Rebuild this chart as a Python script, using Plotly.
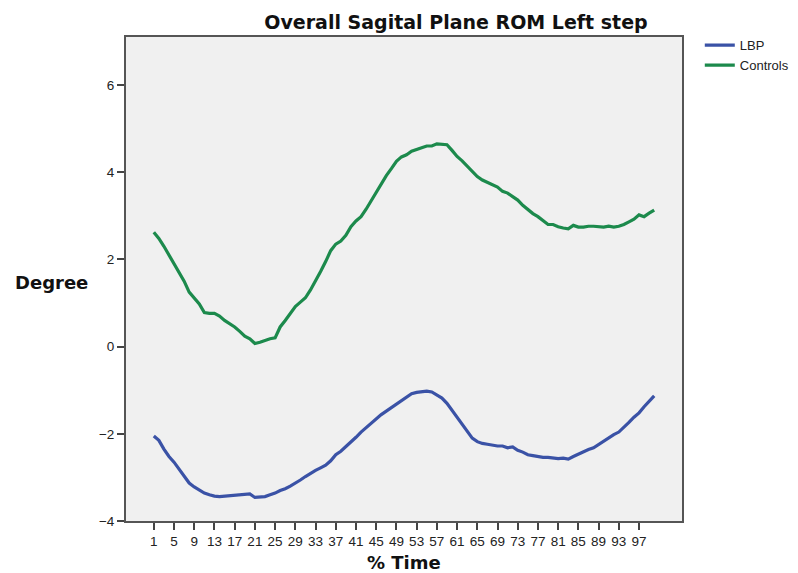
import plotly.graph_objects as go

# % of step time, 1..100
time_pct = list(range(1, 101))

lbp = [-2.05, -2.15, -2.35, -2.52, -2.65, -2.80, -2.98, -3.13, -3.22, -3.30,
       -3.36, -3.40, -3.43, -3.44, -3.43, -3.42, -3.42, -3.41, -3.40, -3.38,
       -3.46, -3.45, -3.44, -3.40, -3.36, -3.30, -3.26, -3.20, -3.14, -3.06,
       -2.98, -2.90, -2.84, -2.78, -2.72, -2.62, -2.48, -2.40, -2.30, -2.20,
       -2.08, -1.96, -1.86, -1.75, -1.66, -1.56, -1.48, -1.40, -1.30, -1.22,
       -1.14, -1.08, -1.05, -1.03, -1.02, -1.04, -1.10, -1.18, -1.30, -1.46,
       -1.62, -1.78, -1.92, -2.10, -2.18, -2.22, -2.24, -2.26, -2.28, -2.28,
       -2.32, -2.30, -2.38, -2.42, -2.48, -2.50, -2.52, -2.54, -2.54, -2.55,
       -2.57, -2.56, -2.58, -2.52, -2.46, -2.42, -2.36, -2.32, -2.24, -2.18,
       -2.10, -2.02, -1.96, -1.86, -1.74, -1.62, -1.52, -1.38, -1.26, -1.13]

controls = [2.62, 2.48, 2.30, 2.10, 1.92, 1.72, 1.50, 1.25, 1.10, 0.98,
            0.78, 0.76, 0.76, 0.70, 0.60, 0.53, 0.45, 0.35, 0.24, 0.18,
            0.07, 0.10, 0.14, 0.18, 0.20, 0.45, 0.60, 0.76, 0.92, 1.02,
            1.12, 1.30, 1.50, 1.72, 1.95, 2.20, 2.35, 2.42, 2.55, 2.75,
            2.88, 2.98, 3.15, 3.35, 3.55, 3.75, 3.92, 4.08, 4.25, 4.35,
            4.40, 4.48, 4.53, 4.56, 4.60, 4.60, 4.65, 4.64, 4.63, 4.50,
            4.36, 4.26, 4.14, 4.00, 3.90, 3.82, 3.76, 3.72, 3.66, 3.56,
            3.52, 3.44, 3.36, 3.24, 3.14, 3.05, 2.98, 2.88, 2.80, 2.80,
            2.75, 2.72, 2.70, 2.78, 2.74, 2.74, 2.76, 2.76, 2.75, 2.74,
            2.76, 2.74, 2.76, 2.80, 2.86, 2.92, 3.02, 2.98, 3.06, 3.13]

x_ticks = list(range(1, 98, 4))
y_ticks = [-4, -2, 0, 2, 4, 6]

fig = go.Figure()
fig.add_trace(go.Scatter(x=time_pct, y=lbp, mode="lines", name="LBP",
                         line=dict(color="#3A52A6", width=3.2)))
fig.add_trace(go.Scatter(x=time_pct, y=controls, mode="lines", name="Controls",
                         line=dict(color="#1C8A4C", width=3.2)))

# page body has an 8px margin, so the figure sits at (8, 8)
fig.update_layout(
    width=798, height=573,
    margin=dict(l=118, r=119, t=29, b=60),
    paper_bgcolor="white",
    plot_bgcolor="#F0F0F0",
    font=dict(family="Liberation Sans, Arial, sans-serif", size=12, color="#222"),
    showlegend=True,
    legend=dict(x=1.032, y=1.014, xanchor="left", yanchor="top", xref="paper",
                bgcolor="rgba(0,0,0,0)", font=dict(size=13, color="#222"),
                tracegroupgap=0, itemwidth=30),
    title=dict(text="<b>Overall Sagital Plane ROM Left step</b>",
               x=(456 - 8) / 798, xanchor="center", xref="container",
               y=1 - 14 / 573, yanchor="middle", yref="container",
               font=dict(family="DejaVu Sans, Arial, sans-serif", size=19, color="#111")),
    annotations=[
        dict(text="<b>Degree</b>", xref="paper", yref="paper",
             x=-0.134, y=(521 - 282) / 484, xanchor="center", yanchor="middle",
             showarrow=False,
             font=dict(family="DejaVu Sans, Arial, sans-serif", size=18, color="#111")),
        dict(text="<b>% Time</b>", xref="paper", yref="paper",
             x=0.5, y=-(562 - 521) / 484, xanchor="center", yanchor="middle",
             showarrow=False,
             font=dict(family="DejaVu Sans, Arial, sans-serif", size=18, color="#111")),
    ],
)

fig.update_xaxes(range=[-4.5, 105.5], tickmode="array", tickvals=x_ticks,
                 ticktext=[str(v) for v in x_ticks],
                 showgrid=False, zeroline=False,
                 showline=True, linecolor="#555", linewidth=2, mirror=True,
                 ticks="outside", ticklen=7, tickwidth=1.5, tickcolor="#444",
                 tickfont=dict(size=13.5, color="#222"), tickangle=0)
fig.update_yaxes(range=[-4, 7.1], tickmode="array", tickvals=y_ticks,
                 showgrid=False, zeroline=False,
                 showline=True, linecolor="#555", linewidth=2, mirror=True,
                 ticks="outside", ticklen=7, tickwidth=1.5, tickcolor="#444",
                 tickfont=dict(size=13.5, color="#222"))

fig.write_html("out.html")
